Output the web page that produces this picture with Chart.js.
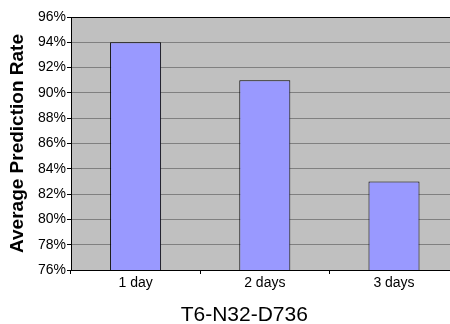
<!DOCTYPE html>
<html>
<head>
<meta charset="utf-8">
<script src="https://cdn.jsdelivr.net/npm/chart.js@4"></script>
<style>
  html, body { margin: 0; padding: 0; background: #fff; overflow: hidden; }
  #wrap { width: 460px; height: 324px; }
</style>
</head>
<body>
<div id="wrap"><canvas id="rateChart"></canvas></div>
<script>
// Chart data
const categories = ['1 day', '2 days', '3 days'];
const predictionRates = [94, 91, 83]; // percent
const yTickValues = [76, 78, 80, 82, 84, 86, 88, 90, 92, 94, 96];
const xTitle = 'T6-N32-D736';
const yTitle = 'Average Prediction Rate';

const FONT = "'Liberation Sans', Arial, Helvetica, sans-serif";

// grey plot area like the old spreadsheet charts
const plotBackground = {
    id: 'plotBackground',
    beforeDraw(chart) {
        const { ctx, chartArea: a } = chart;
        ctx.save();
        ctx.fillStyle = '#c0c0c0';
        ctx.fillRect(a.left, a.top, a.right - a.left, a.bottom - a.top);
        ctx.restore();
    }
};

const ctx = document.getElementById('rateChart').getContext('2d');

new Chart(ctx, {
    type: 'bar',
    data: {
        labels: categories,
        datasets: [{
            data: predictionRates,
            backgroundColor: '#9999ff',
            borderColor: '#000000',
            borderWidth: 1,
            borderSkipped: false,
            barPercentage: 0.395,
            categoryPercentage: 1
        }]
    },
    options: {
        responsive: true,
        maintainAspectRatio: false,
        animation: false,
        layout: { padding: { left: 30, right: 1.4, top: 17, bottom: 0 } },
        plugins: {
            legend: { display: false },
            tooltip: { enabled: false },
            title: {
                display: true,
                text: xTitle,
                position: 'bottom',
                color: '#000',
                font: { family: FONT, size: 21, weight: 'normal', lineHeight: 0.8 },
                padding: 0
            }
        },
        scales: {
            x: {
                offset: true,
                grid: {
                    offset: true,
                    drawOnChartArea: false,
                    tickLength: 4,
                    tickColor: '#000'
                },
                border: { color: '#000', width: 1 },
                ticks: {
                    color: '#000',
                    padding: 0.5,
                    font: { family: FONT, size: 14 }
                },
                afterFit: (scale) => { scale.height = 37.2; }
            },
            y: {
                min: yTickValues[0],
                max: yTickValues[yTickValues.length - 1],
                afterBuildTicks: (scale) => {
                    scale.ticks = yTickValues.map(v => ({ value: v }));
                },
                grid: {
                    color: (c) => (c.tick && c.tick.value === 96) ? '#000' : '#808080',
                    lineWidth: 1,
                    tickLength: 4,
                    tickColor: '#000'
                },
                border: { color: '#000', width: 1 },
                ticks: {
                    color: '#000',
                    padding: 1,
                    font: { family: FONT, size: 14 },
                    callback: (v) => v + '%'
                },
                title: {
                    display: true,
                    text: yTitle,
                    color: '#000',
                    font: { family: FONT, size: 19, weight: 'bold' },
                    padding: { top: -24, bottom: 0 }
                },
                afterFit: (scale) => { scale.width = 41; }
            }
        }
    },
    plugins: [plotBackground]
});
</script>
</body>
</html>
